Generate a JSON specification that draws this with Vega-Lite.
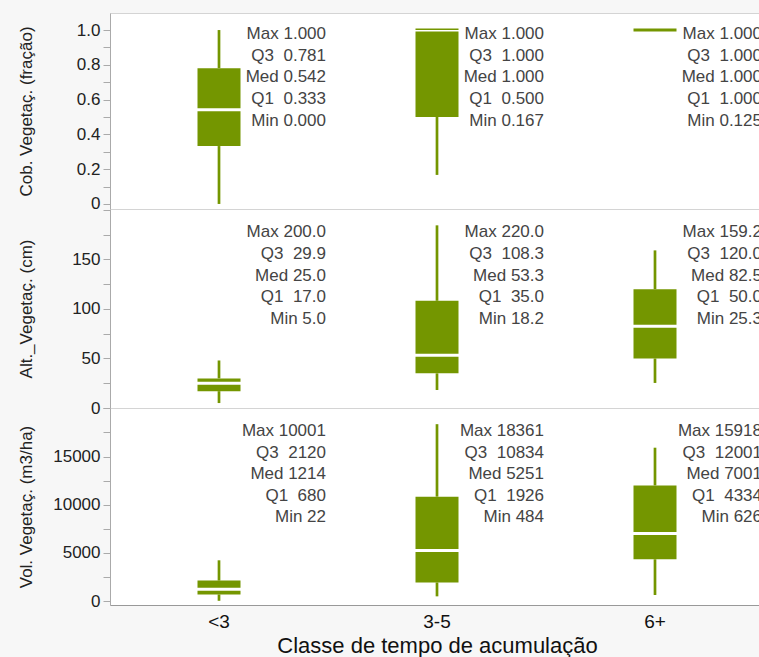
{
  "$schema": "https://vega.github.io/schema/vega-lite/v6.json",
  "background": "#f7f7f7",
  "padding": {"left": 16, "top": 12, "right": 0, "bottom": 5},
  "bounds": "flush",
  "spacing": 0,
  "datasets": {
    "box": [
      {"var": "cob", "cls": "<3", "min": 0, "q1": 0.333, "med": 0.542, "q3": 0.781, "max": 1.0, "lo": 0, "hi": 1.0, "label": "Max 1.000\nQ3\u00a0\u00a00.781\nMed 0.542\nQ1\u00a0\u00a00.333\nMin 0.000"},
      {"var": "cob", "cls": "3-5", "min": 0.167, "q1": 0.5, "med": 1.0, "q3": 1.0, "max": 1.0, "lo": 0.167, "hi": 1.0, "label": "Max 1.000\nQ3\u00a0\u00a01.000\nMed 1.000\nQ1\u00a0\u00a00.500\nMin 0.167"},
      {"var": "cob", "cls": "6+", "min": 0.125, "q1": 1.0, "med": 1.0, "q3": 1.0, "max": 1.0, "lo": 1.0, "hi": 1.0, "label": "Max 1.000\nQ3\u00a0\u00a01.000\nMed 1.000\nQ1\u00a0\u00a01.000\nMin 0.125"},
      {"var": "alt", "cls": "<3", "min": 5.0, "q1": 17.0, "med": 25.0, "q3": 29.9, "max": 200.0, "lo": 5.0, "hi": 48, "label": "Max 200.0\nQ3\u00a0\u00a029.9\nMed 25.0\nQ1\u00a0\u00a017.0\nMin 5.0"},
      {"var": "alt", "cls": "3-5", "min": 18.2, "q1": 35.0, "med": 53.3, "q3": 108.3, "max": 220.0, "lo": 18.2, "hi": 184.5, "label": "Max 220.0\nQ3\u00a0\u00a0108.3\nMed 53.3\nQ1\u00a0\u00a035.0\nMin 18.2"},
      {"var": "alt", "cls": "6+", "min": 25.3, "q1": 50.0, "med": 82.5, "q3": 120.0, "max": 159.2, "lo": 25.3, "hi": 159.2, "label": "Max 159.2\nQ3\u00a0\u00a0120.0\nMed 82.5\nQ1\u00a0\u00a050.0\nMin 25.3"},
      {"var": "vol", "cls": "<3", "min": 22, "q1": 680, "med": 1214, "q3": 2120, "max": 10001, "lo": 22, "hi": 4226, "label": "Max 10001\nQ3\u00a0\u00a02120\nMed 1214\nQ1\u00a0\u00a0680\nMin 22"},
      {"var": "vol", "cls": "3-5", "min": 484, "q1": 1926, "med": 5251, "q3": 10834, "max": 18361, "lo": 484, "hi": 18361, "label": "Max 18361\nQ3\u00a0\u00a010834\nMed 5251\nQ1\u00a0\u00a01926\nMin 484"},
      {"var": "vol", "cls": "6+", "min": 626, "q1": 4334, "med": 7001, "q3": 12001, "max": 15918, "lo": 626, "hi": 15918, "label": "Max 15918\nQ3\u00a0\u00a012001\nMed 7001\nQ1\u00a0\u00a04334\nMin 626"}
    ]
  },
  "config": {
    "font": "Liberation Sans",
    "view": {"stroke": "#d4d4d4", "strokeWidth": 1, "fill": "white"},
    "axisY": {
      "domainColor": "#aaaaaa", "tickColor": "#aaaaaa", "tickSize": 7,
      "labelFontSize": 17, "labelColor": "#222222", "labelPadding": 3, "labelFlush": false, "labelOverlap": false,
      "titleFontSize": 17, "titleColor": "#222222", "titleFontWeight": "normal",
      "titleX": -84, "titleBaseline": "middle", "grid": false
    },
    "axisX": {
      "ticks": false, "domainColor": "#999999", "labelFontSize": 19, "labelColor": "#111111",
      "labelPadding": 7, "labelAngle": 0, "titleFontSize": 22, "titleColor": "#111111",
      "titleFontWeight": "normal", "titlePadding": 4, "grid": false
    }
  },
  "resolve": {"scale": {"y": "independent"}},
  "vconcat": [
    {
      "width": 654, "height": 196,
      "data": {"name": "box"},
      "transform": [{"filter": "datum.var === 'cob'"}],
      "encoding": {
        "x": {"field": "cls", "type": "nominal", "sort": ["<3", "3-5", "6+"], "scale": {"domain": ["<3", "3-5", "6+"], "paddingInner": 0, "paddingOuter": 0}, "axis": null}
      },
      "layer": [
        {"mark": {"type": "rule", "color": "#749600", "strokeWidth": 2.7},
         "encoding": {"y": {"field": "lo", "type": "quantitative",
            "scale": {"domain": [-0.029, 1.098], "nice": false, "zero": false},
            "axis": {"title": "Cob. Vegetaç. (fração)", "values": [0, 0.1, 0.2, 0.3, 0.4, 0.5, 0.6, 0.7, 0.8, 0.9, 1.0], "labelOverlap": false,
                     "labelExpr": "datum.value === 0 ? '0' : (abs(datum.value*10 - 2*round(datum.value*5)) < 0.01 ? format(datum.value, '.1f') : '')"}},
          "y2": {"field": "q1"}}},
        {"mark": {"type": "rule", "color": "#749600", "strokeWidth": 2.7},
         "encoding": {"y": {"field": "q3", "type": "quantitative",
            "axis": {"title": "Cob. Vegetaç. (fração)", "values": [0, 0.1, 0.2, 0.3, 0.4, 0.5, 0.6, 0.7, 0.8, 0.9, 1.0], "labelOverlap": false,
                     "labelExpr": "datum.value === 0 ? '0' : (abs(datum.value*10 - 2*round(datum.value*5)) < 0.01 ? format(datum.value, '.1f') : '')"}},
          "y2": {"field": "hi"}}},
        {"mark": {"type": "bar", "size": 43, "color": "#749600", "y2Offset": -1.5},
         "encoding": {"y": {"field": "q3", "type": "quantitative",
            "axis": {"title": "Cob. Vegetaç. (fração)", "values": [0, 0.1, 0.2, 0.3, 0.4, 0.5, 0.6, 0.7, 0.8, 0.9, 1.0], "labelOverlap": false,
                     "labelExpr": "datum.value === 0 ? '0' : (abs(datum.value*10 - 2*round(datum.value*5)) < 0.01 ? format(datum.value, '.1f') : '')"}},
          "y2": {"field": "med"}}},
        {"mark": {"type": "bar", "size": 43, "color": "#749600", "yOffset": 1.5},
         "encoding": {"y": {"field": "med", "type": "quantitative",
            "axis": {"title": "Cob. Vegetaç. (fração)", "values": [0, 0.1, 0.2, 0.3, 0.4, 0.5, 0.6, 0.7, 0.8, 0.9, 1.0], "labelOverlap": false,
                     "labelExpr": "datum.value === 0 ? '0' : (abs(datum.value*10 - 2*round(datum.value*5)) < 0.01 ? format(datum.value, '.1f') : '')"}},
          "y2": {"field": "q1"}}},
        {"mark": {"type": "text", "align": "right", "baseline": "top", "dx": -2, "fontSize": 17, "lineHeight": 21.6, "lineBreak": "\n", "color": "#444444"},
         "encoding": {"x": {"field": "cls", "type": "nominal", "bandPosition": 1},
                      "y": {"datum": 1.022, "type": "quantitative",
            "axis": {"title": "Cob. Vegetaç. (fração)", "values": [0, 0.1, 0.2, 0.3, 0.4, 0.5, 0.6, 0.7, 0.8, 0.9, 1.0], "labelOverlap": false,
                     "labelExpr": "datum.value === 0 ? '0' : (abs(datum.value*10 - 2*round(datum.value*5)) < 0.01 ? format(datum.value, '.1f') : '')"}},
                      "text": {"field": "label", "type": "nominal"}}}
      ]
    },
    {
      "width": 654, "height": 199,
      "data": {"name": "box"},
      "transform": [{"filter": "datum.var === 'alt'"}],
      "encoding": {
        "x": {"field": "cls", "type": "nominal", "sort": ["<3", "3-5", "6+"], "scale": {"domain": ["<3", "3-5", "6+"], "paddingInner": 0, "paddingOuter": 0}, "axis": null}
      },
      "layer": [
        {"mark": {"type": "rule", "color": "#749600", "strokeWidth": 2.7},
         "encoding": {"y": {"field": "lo", "type": "quantitative",
            "scale": {"domain": [0, 201], "nice": false, "zero": false},
            "axis": {"title": "Alt._Vegetaç. (cm)", "values": [0, 25, 50, 75, 100, 125, 150, 175, 200], "labelOverlap": false,
                     "labelExpr": "datum.value % 50 === 0 && datum.value < 200 ? format(datum.value, 'd') : ''"}},
          "y2": {"field": "q1"}}},
        {"mark": {"type": "rule", "color": "#749600", "strokeWidth": 2.7},
         "encoding": {"y": {"field": "q3", "type": "quantitative",
            "axis": {"title": "Alt._Vegetaç. (cm)", "values": [0, 25, 50, 75, 100, 125, 150, 175, 200], "labelOverlap": false,
                     "labelExpr": "datum.value % 50 === 0 && datum.value < 200 ? format(datum.value, 'd') : ''"}},
          "y2": {"field": "hi"}}},
        {"mark": {"type": "bar", "size": 43, "color": "#749600", "y2Offset": -1.5},
         "encoding": {"y": {"field": "q3", "type": "quantitative",
            "axis": {"title": "Alt._Vegetaç. (cm)", "values": [0, 25, 50, 75, 100, 125, 150, 175, 200], "labelOverlap": false,
                     "labelExpr": "datum.value % 50 === 0 && datum.value < 200 ? format(datum.value, 'd') : ''"}},
          "y2": {"field": "med"}}},
        {"mark": {"type": "bar", "size": 43, "color": "#749600", "yOffset": 1.5},
         "encoding": {"y": {"field": "med", "type": "quantitative",
            "axis": {"title": "Alt._Vegetaç. (cm)", "values": [0, 25, 50, 75, 100, 125, 150, 175, 200], "labelOverlap": false,
                     "labelExpr": "datum.value % 50 === 0 && datum.value < 200 ? format(datum.value, 'd') : ''"}},
          "y2": {"field": "q1"}}},
        {"mark": {"type": "text", "align": "right", "baseline": "top", "dx": -2, "fontSize": 17, "lineHeight": 21.6, "lineBreak": "\n", "color": "#444444"},
         "encoding": {"x": {"field": "cls", "type": "nominal", "bandPosition": 1},
                      "y": {"datum": 185.5, "type": "quantitative",
            "axis": {"title": "Alt._Vegetaç. (cm)", "values": [0, 25, 50, 75, 100, 125, 150, 175, 200], "labelOverlap": false,
                     "labelExpr": "datum.value % 50 === 0 && datum.value < 200 ? format(datum.value, 'd') : ''"}},
                      "text": {"field": "label", "type": "nominal"}}}
      ]
    },
    {
      "width": 654, "height": 197,
      "data": {"name": "box"},
      "transform": [{"filter": "datum.var === 'vol'"}],
      "encoding": {
        "x": {"field": "cls", "type": "nominal", "sort": ["<3", "3-5", "6+"], "scale": {"domain": ["<3", "3-5", "6+"], "paddingInner": 0, "paddingOuter": 0}, "axis": {"title": "Classe de tempo de acumulação"}}
      },
      "layer": [
        {"mark": {"type": "rule", "color": "#749600", "strokeWidth": 2.7},
         "encoding": {"y": {"field": "lo", "type": "quantitative",
            "scale": {"domain": [-415, 20040], "nice": false, "zero": false},
            "axis": {"title": "Vol. Vegetaç. (m3/ha)", "values": [0, 2500, 5000, 7500, 10000, 12500, 15000, 17500, 20000], "labelOverlap": false,
                     "labelExpr": "datum.value % 5000 === 0 && datum.value < 20000 ? format(datum.value, 'd') : ''"}},
          "y2": {"field": "q1"}}},
        {"mark": {"type": "rule", "color": "#749600", "strokeWidth": 2.7},
         "encoding": {"y": {"field": "q3", "type": "quantitative",
            "axis": {"title": "Vol. Vegetaç. (m3/ha)", "values": [0, 2500, 5000, 7500, 10000, 12500, 15000, 17500, 20000], "labelOverlap": false,
                     "labelExpr": "datum.value % 5000 === 0 && datum.value < 20000 ? format(datum.value, 'd') : ''"}},
          "y2": {"field": "hi"}}},
        {"mark": {"type": "bar", "size": 43, "color": "#749600", "y2Offset": -1.5},
         "encoding": {"y": {"field": "q3", "type": "quantitative",
            "axis": {"title": "Vol. Vegetaç. (m3/ha)", "values": [0, 2500, 5000, 7500, 10000, 12500, 15000, 17500, 20000], "labelOverlap": false,
                     "labelExpr": "datum.value % 5000 === 0 && datum.value < 20000 ? format(datum.value, 'd') : ''"}},
          "y2": {"field": "med"}}},
        {"mark": {"type": "bar", "size": 43, "color": "#749600", "yOffset": 1.5},
         "encoding": {"y": {"field": "med", "type": "quantitative",
            "axis": {"title": "Vol. Vegetaç. (m3/ha)", "values": [0, 2500, 5000, 7500, 10000, 12500, 15000, 17500, 20000], "labelOverlap": false,
                     "labelExpr": "datum.value % 5000 === 0 && datum.value < 20000 ? format(datum.value, 'd') : ''"}},
          "y2": {"field": "q1"}}},
        {"mark": {"type": "text", "align": "right", "baseline": "top", "dx": -2, "fontSize": 17, "lineHeight": 21.6, "lineBreak": "\n", "color": "#444444"},
         "encoding": {"x": {"field": "cls", "type": "nominal", "bandPosition": 1},
                      "y": {"datum": 18480, "type": "quantitative",
            "axis": {"title": "Vol. Vegetaç. (m3/ha)", "values": [0, 2500, 5000, 7500, 10000, 12500, 15000, 17500, 20000], "labelOverlap": false,
                     "labelExpr": "datum.value % 5000 === 0 && datum.value < 20000 ? format(datum.value, 'd') : ''"}},
                      "text": {"field": "label", "type": "nominal"}}}
      ]
    }
  ]
}
